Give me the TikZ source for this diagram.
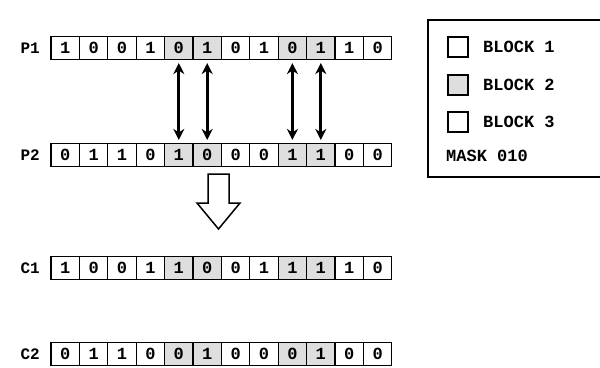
\documentclass[tikz,border=0pt]{standalone}
\usepackage{fontspec}
\setmainfont{Liberation Mono}
\usetikzlibrary{arrows.meta}
\begin{document}
\begin{tikzpicture}[x=1pt,y=-1pt,
  cell/.style={draw,line width=1.2pt,minimum width=28.4pt,minimum height=23pt,inner sep=0pt,font=\fontsize{17}{17}\selectfont\bfseries},
  sty0/.style={cell},
  sty1/.style={cell,fill=black!13},
  lbl/.style={font=\fontsize{16}{16}\selectfont\bfseries,anchor=east,inner sep=0pt},
  swap/.style={{Stealth[length=11pt,width=11pt]}-{Stealth[length=11pt,width=11pt]},line width=3.2pt,shorten >=3pt,shorten <=3pt},
  legbox/.style={draw,line width=1.2pt,minimum width=20pt,minimum height=20pt,inner sep=0pt},
  legtxt/.style={font=\fontsize{17}{17}\selectfont\bfseries,anchor=west,inner sep=0pt},
]
\useasboundingbox (0,0) rectangle (600,367);
\foreach \r/\yy/\bits in {P1/48/{1,0,0,1,0,1,0,1,0,1,1,0},P2/155/{0,1,1,0,1,0,0,0,1,1,0,0},C1/268/{1,0,0,1,1,0,0,1,1,1,1,0},C2/354/{0,1,1,0,0,1,0,0,0,1,0,0}}{
  \node[lbl] (\r-lab) at (40,\yy) {\r};
  \foreach \b [count=\i from 0] in \bits {
    \pgfmathtruncatemacro\s{(\i==4)||(\i==5)||(\i==8)||(\i==9)}
    \node[sty\s] (\r-\i) at ({65.2+28.4*\i},\yy) {\b};
  }
}
\foreach \i in {4,5,8,9}{
  \draw[swap] (P1-\i.south) -- (P2-\i.north);
}
\draw[line width=1.5pt,fill=white,line join=miter] (208,174) -- (229,174) -- (229,203) -- (240,203) -- (218.5,229) -- (197,203) -- (208,203) -- cycle;
\draw[line width=1.2pt] (602,20) -- (428,20) -- (428,177) -- (602,177);
\node[legbox] (L1) at (458,47) {};
\node[legbox,fill=black!13] (L2) at (458,85) {};
\node[legbox] (L3) at (458,122) {};
\node[legtxt] (T1) at (483,47) {BLOCK 1};
\node[legtxt] (T2) at (483,85) {BLOCK 2};
\node[legtxt] (T3) at (483,122) {BLOCK 3};
\node[legtxt] (M) at (446,156) {MASK 010};
\end{tikzpicture}
\end{document}
